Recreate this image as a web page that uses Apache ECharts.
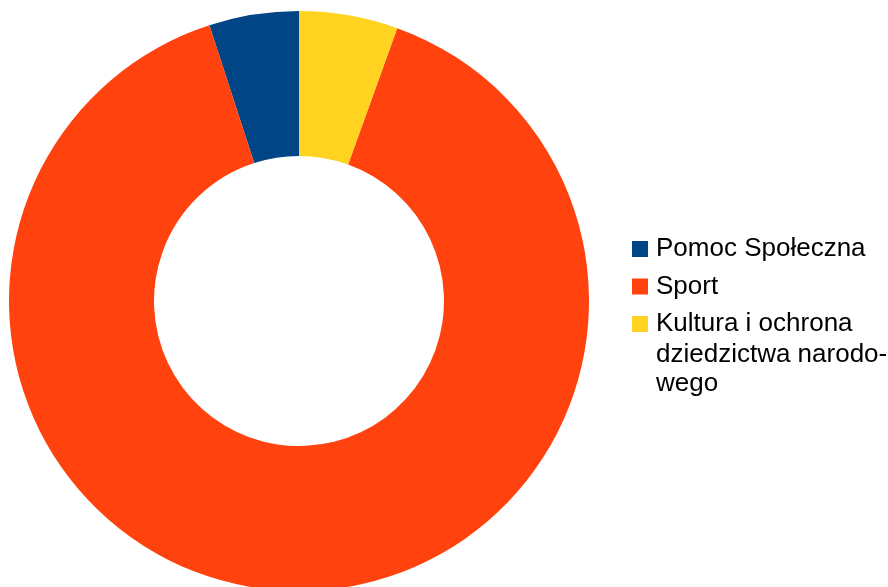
<!DOCTYPE html>
<html>
<head>
<meta charset="utf-8">
<script src="https://cdn.jsdelivr.net/npm/echarts@6/dist/echarts.min.js"></script>
<style>
html,body{margin:0;padding:0;background:#fff;}
#chart{width:888px;height:587px;}
</style>
</head>
<body>
<div id="chart"></div>
<script>
const categories = ['Pomoc Społeczna', 'Sport', 'Kultura i ochrona dziedzictwa narodowego'];
const legendLines = [['Pomoc Społeczna'], ['Sport'], ['Kultura i ochrona', 'dziedzictwa narodo-', 'wego']];
const values = [5.0, 89.5, 5.5];
const colors = ['#004586', '#ff420e', '#ffd320'];

const chart = echarts.init(document.getElementById('chart'), null, {renderer: 'canvas'});
const font = '"Liberation Sans", Arial, sans-serif';

const extraLines = [];
legendLines.forEach(function (lines) {
  lines.slice(1).forEach(function (t) { extraLines.push(t); });
});

chart.setOption({
  animation: false,
  color: colors,
  legend: {
    orient: 'vertical',
    left: 632,
    top: 234,
    padding: 0,
    itemWidth: 16,
    itemHeight: 16,
    itemGap: 7.5,
    icon: 'rect',
    selectedMode: false,
    data: categories,
    formatter: function (name) {
      return legendLines[categories.indexOf(name)][0];
    },
    textStyle: {fontFamily: font, fontSize: 26, color: '#000', lineHeight: 30, padding: [0, 0, 0, 3]}
  },
  graphic: extraLines.map(function (t, i) {
    return {
      type: 'text',
      left: 656,
      top: 342 + i * 29,
      style: {text: t, font: '26px ' + font, fill: '#000'}
    };
  }),
  series: [{
    type: 'pie',
    center: [299, 301],
    radius: [145, 290],
    startAngle: 90,
    clockwise: false,
    label: {show: false},
    labelLine: {show: false},
    emphasis: {disabled: true},
    itemStyle: {borderWidth: 0},
    data: categories.map(function (c, i) { return {name: c, value: values[i]}; })
  }]
});
</script>
</body>
</html>
